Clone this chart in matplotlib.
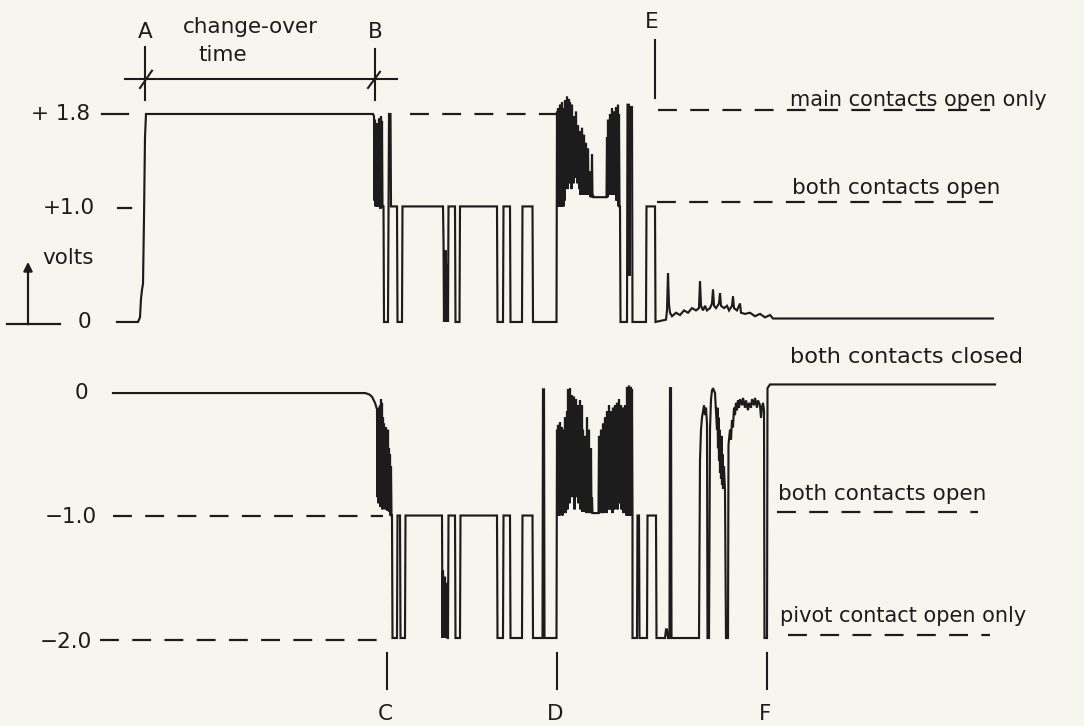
import matplotlib
matplotlib.use("Agg")
import matplotlib.pyplot as plt

plt.rcParams['font.family'] = ['DejaVu Sans']

INK = '#1c1c1c'
PAPER = '#f6f6ee'

# ---------------------------------------------------------------------------
# Oscillograph records of a tap change-over (time in units of 0.1 ms)
# Upper record: main contact circuit (volts)
# ---------------------------------------------------------------------------
main_t_a = [117, 138, 140, 141, 142, 143, 144, 145, 146, 373]
main_v_a = [0.0, 0.0, 0.04, 0.2, 0.28, 0.33, 0.9, 1.6, 1.8, 1.8]

# bounce burst just after B (upper / lower excursions, one per sample)
main_b1_t0 = 374
main_b1_hi = [1.78, 1.75, 1.7, 1.72, 1.6, 1.76, 1.7, 1.78, 1.74]
main_b1_lo = [1.05, 1.0, 1.02, 1.0, 1.0, 1.03, 0.98, 1.0, 1.0]

main_t_b = [383.5, 384, 388, 389, 390.5, 391, 397, 397.5, 402, 402.5, 443]
main_v_b = [1.0, 0.0, 0.0, 1.8, 1.8, 1.0, 1.0, 0.0, 0.0, 1.0, 1.0]

main_b2_t0 = 443.5
main_b2_hi = [0.7, 0.55, 0.62, 0.45, 0.5]
main_b2_lo = [0.0, 0.02, 0.0, 0.03, 0.0]

main_t_c = [448, 448.5, 455, 455.5, 459.5, 460, 497, 497.5, 503, 503.5,
            510, 510.5, 522, 522.5, 532.5, 533, 556.5]
main_v_c = [0.0, 1.0, 1.0, 0.0, 0.0, 1.0, 1.0, 0.0, 0.0, 1.0,
            1.0, 0.0, 0.0, 1.0, 1.0, 0.0, 0.0]

main_b3_t0 = 557
main_b3_hi = [1.82, 1.85, 1.8, 1.88, 1.75, 1.9, 1.7, 1.85, 1.92, 1.8,
              1.95, 1.85, 1.93, 1.9, 1.7, 1.88, 1.65, 1.78, 1.6, 1.82,
              1.55, 1.7, 1.58, 1.65, 1.5, 1.68, 1.45, 1.62, 1.4, 1.55,
              1.35, 1.5, 1.3, 1.3, 1.12, 1.45, 1.1,
              1.08, 1.08, 1.08, 1.08, 1.08, 1.08, 1.08, 1.08, 1.08, 1.08,
              1.08, 1.08, 1.08,
              1.6, 1.75, 1.55, 1.8, 1.65, 1.85, 1.6, 1.82, 1.7, 1.86,
              1.75, 1.88, 1.8]
main_b3_lo = [1.0, 1.0, 1.05, 1.0, 1.0, 1.02, 1.0, 1.05,
              1.2, 1.3, 1.15, 1.4, 1.2, 1.35, 1.15, 1.3, 1.2, 1.5,
              1.25, 1.4, 1.2, 1.35, 1.15,
              1.1, 1.2, 1.1, 1.1, 1.25, 1.1, 1.1, 1.12, 1.1, 1.1,
              1.08, 1.08, 1.08, 1.08,
              1.08, 1.08, 1.08, 1.08, 1.08, 1.08, 1.08, 1.08, 1.08, 1.08,
              1.08, 1.08, 1.08,
              1.08, 1.1, 1.1, 1.15, 1.1, 1.2, 1.1, 1.15, 1.1, 1.05,
              1.1, 1.0, 1.0]

main_t_d = [620, 620.5, 627, 627.5, 629, 629.5, 630, 632, 632.5, 646, 646.5,
            655, 655.5, 666, 667, 668, 669, 670, 672, 676, 680, 684, 688,
            692, 696, 699, 700, 701, 703, 705, 707, 710, 712, 713, 714,
            716, 719, 720, 721, 724, 727, 729, 732, 733, 734, 737, 740,
            741, 745, 750, 755, 760, 765, 770, 773, 778, 993]
main_v_d = [1.0, 0.0, 0.0, 1.88, 1.88, 0.4, 1.86, 1.86, 0.0, 0.0, 1.0,
            1.0, 0.0, 0.02, 0.1, 0.42, 0.15, 0.08, 0.05, 0.08, 0.06, 0.1, 0.08,
            0.12, 0.1, 0.12, 0.35, 0.14, 0.1, 0.14, 0.1, 0.12, 0.16, 0.28, 0.14,
            0.12, 0.16, 0.25, 0.14, 0.12, 0.14, 0.1, 0.14, 0.22, 0.12, 0.1, 0.16,
            0.08, 0.07, 0.08, 0.05, 0.07, 0.04, 0.06, 0.03, 0.03, 0.03]

# ---------------------------------------------------------------------------
# Lower record: pivot contact circuit (volts)
# ---------------------------------------------------------------------------
piv_t_a = [113, 365, 369, 372, 375, 376.5]
piv_v_a = [0.0, 0.0, -0.01, -0.03, -0.08, -0.12]

piv_b1_t0 = 377
piv_b1_hi = [-0.13, -0.15, -0.12, -0.1, -0.05, -0.08, -0.2, -0.25, -0.3,
             -0.28, -0.35, -0.3, -0.45, -0.5, -0.6]
piv_b1_lo = [-0.85, -0.9, -0.88, -0.93, -0.9, -0.95, -0.9, -0.92, -0.95,
             -0.9, -0.96, -0.92, -0.97, -1.0, -1.0]

piv_t_b = [392, 392.5, 397, 397.5, 400, 400.5, 405, 405.5, 442, 442.5]
piv_v_b = [-1.0, -2.0, -2.0, -1.0, -1.0, -2.0, -2.0, -1.0, -1.0, -2.0]

piv_b2_t0 = 443
piv_b2_hi = [-1.45, -1.6, -1.5, -1.7, -1.55]
piv_b2_lo = [-2.0, -1.98, -2.0, -1.97, -2.0]

piv_t_c = [448, 448.5, 455, 455.5, 460, 460.5, 497, 497.5, 503, 503.5,
           510, 510.5, 522, 522.5, 532.5, 533, 542.5, 543, 544, 544.5, 556.5]
piv_v_c = [-2.0, -1.0, -1.0, -2.0, -2.0, -1.0, -1.0, -2.0, -2.0, -1.0,
           -1.0, -2.0, -2.0, -1.0, -1.0, -2.0, -2.0, 0.03, 0.03, -2.0, -2.0]

piv_b3_t0 = 557
piv_b3_hi = [-0.3, -0.26, -0.4, -0.24, -0.35, -0.28, -0.45, -0.3, -0.2, -0.4,
             -0.15, 0.03, -0.1, 0.04, -0.05, -0.02, -0.1, -0.03, -0.08, -0.05,
             -0.15, -0.1, -0.25, -0.06, -0.2, -0.1, -0.3, -0.45, -0.35, -0.6,
             -0.2, -0.5, -0.3, -0.7, -0.45, -0.85,
             -0.98, -0.98, -0.98, -0.98, -0.98, -0.98,
             -0.35, -0.6, -0.3, -0.7, -0.25, -0.5, -0.2, -0.45, -0.15, -0.3,
             -0.1, -0.4, -0.15, -0.3, -0.12, -0.25, -0.1, -0.3, -0.08, -0.2,
             -0.05, -0.15, -0.1, -0.3, -0.12, -0.25, -0.1, -0.2, 0.05, 0.0,
             0.06, 0.02, 0.05, 0.03]
piv_b3_lo = [-1.0, -0.98, -1.0, -0.97, -0.95, -1.0, -0.97, -0.9, -0.98, -0.85,
             -0.95, -0.8, -0.9, -0.75, -0.85, -0.7, -0.8, -0.95, -0.7, -0.85,
             -0.75, -0.9, -0.8, -0.95, -0.8, -0.97, -0.85, -0.97, -0.9, -0.98,
             -0.97, -0.98, -0.95, -0.98, -0.98, -0.98,
             -0.98, -0.98, -0.98, -0.98, -0.98, -0.98,
             -0.98, -0.98, -0.95, -0.98, -0.98, -0.97, -0.95, -0.98, -0.9, -0.95,
             -0.85, -0.95, -0.8, -0.98, -0.9, -0.95, -0.8, -0.9, -0.95, -0.75,
             -0.9, -0.85, -0.95, -0.85, -0.98, -0.9, -0.95, -1.0, -0.98, -1.0,
             -0.95, -1.0, -0.98, -1.0]

piv_t_d = [632.5, 637, 637.5, 639, 639.5, 647, 647.5, 656, 656.5, 665, 666,
           667, 668, 669.5, 670, 671, 671.5, 699, 700, 701, 702, 703, 704,
           705, 706, 707, 707.5, 709, 710, 711, 712, 713, 714, 715, 716, 717,
           717.5, 718, 718.5, 719, 719.5, 720, 720.5, 721, 721.5, 722, 722.5,
           723, 724, 725, 726, 728, 728.5, 730, 731, 732, 733, 734, 735, 736,
           737, 738, 739, 740, 742, 743, 745, 746, 748, 749, 751, 752, 754,
           755, 757, 758, 760, 761, 762, 763, 764, 764.5, 767, 767.5, 770, 995]
piv_v_d = [-2.0, -2.0, -1.0, -1.0, -2.0, -2.0, -1.0, -1.0, -2.0, -2.0, -1.93,
           -1.93, -2.0, -2.0, 0.04, 0.04, -2.0, -2.0, -0.55, -0.3, -0.2, -0.15,
           -0.1, -0.18, -0.12, -0.25, -2.0, -2.0, -0.3, -0.05, 0.02, 0.04, 0.02,
           0.0, -0.15, -0.3, -0.12, -0.45, -0.2, -0.55, -0.3, -0.65, -0.4, -0.7,
           -0.35, -0.75, -0.5, -0.78, -0.6, -0.8, -2.0, -2.0, -0.42, -0.3, -0.38,
           -0.22, -0.28, -0.12, -0.18, -0.08, -0.14, -0.06, -0.12, -0.05, -0.1,
           -0.04, -0.12, -0.06, -0.14, -0.08, -0.12, -0.05, -0.1, -0.04, -0.12,
           -0.06, -0.1, -0.2, -0.12, -0.08, -0.14, -2.0, -2.0, 0.04, 0.07, 0.07]

# event markers A-F (time) and reference levels
t_A, t_B, t_C, t_D, t_E, t_F = 145, 375, 387, 557, 655, 767
main_levels = [1.8, 1.0, 0.0]
main_level_labels = ['+ 1.8', '+1.0', '0']
piv_levels = [0.0, -1.0, -2.0]
piv_level_labels = ['0', '\u22121.0', '\u22122.0']


def burst(t0, hi, lo):
    """Interleave upper and lower excursions of a contact-bounce burst."""
    t, v = [], []
    for i, (h, l) in enumerate(zip(hi, lo)):
        t += [t0 + i, t0 + i + 0.5]
        v += [h, l]
    return t, v


def join(*parts):
    t, v = [], []
    for pt, pv in parts:
        t += list(pt)
        v += list(pv)
    return t, v


main_t, main_v = join((main_t_a, main_v_a),
                      burst(main_b1_t0, main_b1_hi, main_b1_lo),
                      (main_t_b, main_v_b),
                      burst(main_b2_t0, main_b2_hi, main_b2_lo),
                      (main_t_c, main_v_c),
                      burst(main_b3_t0, main_b3_hi, main_b3_lo),
                      (main_t_d, main_v_d))
piv_t, piv_v = join((piv_t_a, piv_v_a),
                    burst(piv_b1_t0, piv_b1_hi, piv_b1_lo),
                    (piv_t_b, piv_v_b),
                    burst(piv_b2_t0, piv_b2_hi, piv_b2_lo),
                    (piv_t_c, piv_v_c),
                    burst(piv_b3_t0, piv_b3_hi, piv_b3_lo),
                    (piv_t_d, piv_v_d))

# ---------------------------------------------------------------------------
fig = plt.figure(figsize=(10.84, 7.26), dpi=100, facecolor=PAPER)
ax1 = fig.add_axes([0.0, 0.5008, 1.0, 0.4934])
ax2 = fig.add_axes([0.0, 0.0031, 1.0, 0.4977])
for ax in (ax1, ax2):
    ax.set_xlim(0, 1084)
    ax.set_axis_off()
    ax.patch.set_alpha(0)
ax1.set_ylim(-0.35, 2.75)
ax2.set_ylim(-2.7, 0.25)

TRACE = dict(color=INK, lw=1.55, solid_joinstyle='miter')
DASH = dict(color=INK, lw=1.6, linestyle=(0, (8.5, 6.0)))
FS = 15.5      # scale and marker lettering

ax1.plot(main_t, main_v, **TRACE)
ax2.plot(piv_t, piv_v, **TRACE)

# ---- upper record annotations ----
ax1.plot([410, 557], [1.8, 1.8], **DASH)
ax1.plot([658, 990], [1.835, 1.835], **DASH)
ax1.plot([657, 993], [1.038, 1.038], **DASH)
ax1.text(790, 1.87, 'main contacts open only', fontsize=15.0, color=INK,
         ha='left', va='baseline')
ax1.text(792, 1.11, 'both contacts open', fontsize=15.5, color=INK,
         ha='left', va='baseline')
ax1.text(790, -0.355, 'both contacts closed', fontsize=16.2, color=INK,
         ha='left', va='baseline')

# level labels and short ticks
ax1.text(90, main_levels[0], main_level_labels[0], fontsize=FS, color=INK,
         ha='right', va='center')
ax1.plot([102, 128], [main_levels[0], main_levels[0]], color=INK, lw=1.6)
ax1.text(95, main_levels[1] - 0.01, main_level_labels[1], fontsize=FS,
         color=INK, ha='right', va='center')
ax1.plot([118, 131], [main_levels[1] - 0.01, main_levels[1] - 0.01],
         color=INK, lw=1.6)
ax1.text(84, main_levels[2], main_level_labels[2], fontsize=FS, color=INK,
         ha='center', va='center')
ax1.text(42, 0.55, 'volts', fontsize=FS, color=INK, ha='left', va='center')
ax1.plot([7, 60], [-0.02, -0.02], color=INK, lw=1.6)
ax1.annotate('', xy=(28, 0.52), xytext=(28, -0.02),
             arrowprops=dict(arrowstyle='-|>', lw=1.6, color=INK,
                             mutation_scale=13, shrinkA=0, shrinkB=0))

# change-over time dimension
ax1.plot([125, 397], [2.10, 2.10], color=INK, lw=1.5)
ax1.plot([t_A, t_A], [1.92, 2.38], color=INK, lw=1.5)
ax1.plot([t_B, t_B], [1.92, 2.36], color=INK, lw=1.5)
ax1.plot([140, 152], [2.025, 2.175], color=INK, lw=1.5)
ax1.plot([368, 380], [2.025, 2.165], color=INK, lw=1.5)
ax1.text(t_A, 2.51, 'A', fontsize=FS, color=INK, ha='center', va='center')
ax1.text(t_B, 2.51, 'B', fontsize=FS, color=INK, ha='center', va='center')
ax1.text(250, 2.55, 'change-over', fontsize=FS, color=INK,
         ha='center', va='center')
ax1.text(223, 2.31, 'time', fontsize=FS, color=INK, ha='center', va='center')
ax1.plot([t_E, t_E], [1.94, 2.44], color=INK, lw=1.5)
ax1.text(t_E - 3, 2.6, 'E', fontsize=FS, color=INK, ha='center', va='center')

# ---- lower record annotations ----
ax2.plot([113, 383], [-1.0, -1.0], **DASH)
ax2.plot([100, 377], [-2.02, -2.02], **DASH)
ax2.plot([777, 978], [-0.97, -0.97], **DASH)
ax2.plot([788, 990], [-1.976, -1.976], **DASH)
ax2.text(778, -0.873, 'both contacts open', fontsize=15.5, color=INK,
         ha='left', va='baseline')
ax2.text(780, -1.87, 'pivot contact open only', fontsize=15.0, color=INK,
         ha='left', va='baseline')

ax2.text(81, piv_levels[0], piv_level_labels[0], fontsize=FS, color=INK,
         ha='center', va='center')
ax2.text(97, piv_levels[1] - 0.01, piv_level_labels[1], fontsize=FS,
         color=INK, ha='right', va='center')
ax2.text(92, piv_levels[2] - 0.03, piv_level_labels[2], fontsize=FS,
         color=INK, ha='right', va='center')

for t_mark, name in ((t_C, 'C'), (t_D, 'D'), (t_F, 'F')):
    ax2.plot([t_mark, t_mark], [-2.12, -2.42], color=INK, lw=1.5)
    ax2.text(t_mark - 2, -2.62, name, fontsize=FS, color=INK,
             ha='center', va='center')

fig.savefig('out.png', dpi=100, facecolor=PAPER)
